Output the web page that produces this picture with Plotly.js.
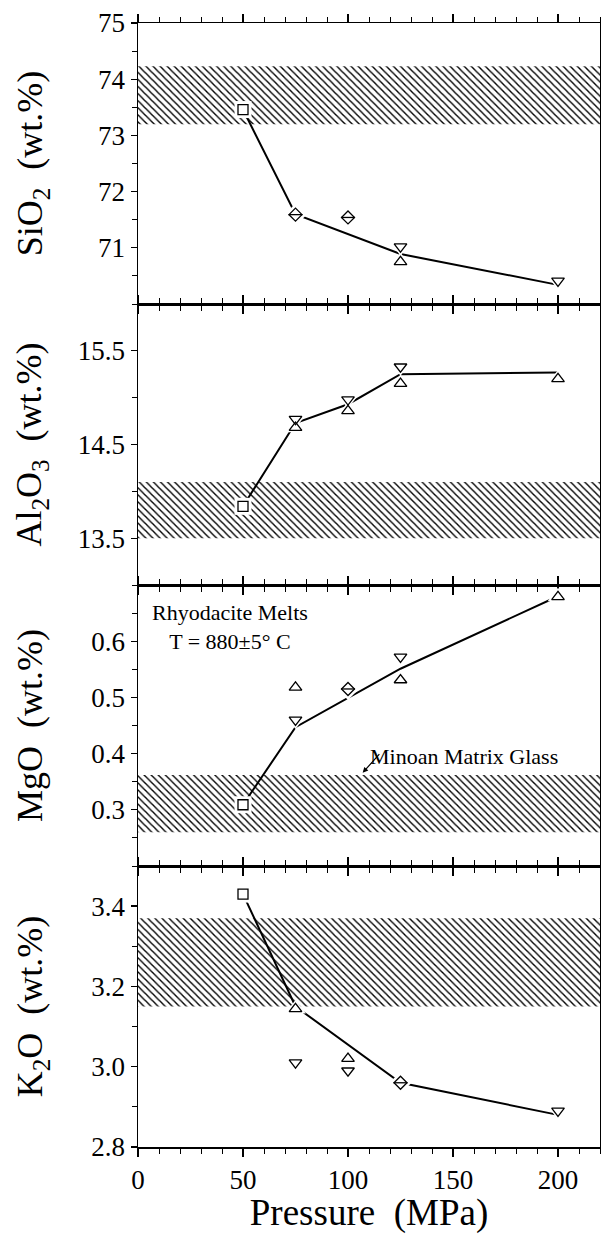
<!DOCTYPE html>
<html>
<head>
<meta charset="utf-8">
<script src="https://cdn.plot.ly/plotly-3.0.1.min.js"></script>
<style>
  html, body { margin: 0; padding: 0; background: #fff; }
  #chart { width: 601px; height: 1234px; }
</style>
</head>
<body>
<div id="chart"></div>
<script>
// ---------- data ----------
const pressureRange = [0, 220];
const pressureTicks = [0, 50, 100, 150, 200];

// SiO2
const sio2SquareP = [50];        const sio2Square = [73.46];
const sio2DiamondP = [75, 100];  const sio2Diamond = [71.59, 71.54];
const sio2DownP = [125, 200];    const sio2Down = [71.02, 70.41];
const sio2UpP = [125];           const sio2Up = [70.75];
const sio2LineP = [50, 75, 125, 200]; const sio2Line = [73.46, 71.6, 70.89, 70.34];
const sio2Band = [73.2, 74.23];
const sio2Ticks = [71, 72, 73, 74, 75];

// Al2O3
const al2o3SquareP = [50];             const al2o3Square = [13.84];
const al2o3DownP = [75, 100, 125];     const al2o3Down = [14.77, 14.98, 15.33];
const al2o3UpP = [75, 100, 125, 200];  const al2o3Up = [14.68, 14.86, 15.15, 15.20];
const al2o3LineP = [50, 75, 100, 125, 200]; const al2o3Line = [13.84, 14.73, 14.93, 15.25, 15.27];
const al2o3Band = [13.5, 14.1];
const al2o3Ticks = [13.5, 14.5, 15.5];

// MgO
const mgoSquareP = [50];           const mgoSquare = [0.309];
const mgoUpP = [75, 125, 200];     const mgoUp = [0.518, 0.531, 0.679];
const mgoDownP = [75, 125];        const mgoDown = [0.460, 0.572];
const mgoDiamondP = [100];         const mgoDiamond = [0.515];
const mgoLineP = [50, 75, 125, 200]; const mgoLine = [0.309, 0.447, 0.551, 0.68];
const mgoBand = [0.26, 0.362];
const mgoTicks = [0.3, 0.4, 0.5, 0.6];

// K2O
const k2oSquareP = [50];            const k2oSquare = [3.43];
const k2oUpP = [75, 100];           const k2oUp = [3.144, 3.02];
const k2oDownP = [75, 100, 200];    const k2oDown = [3.01, 2.99, 2.89];
const k2oDiamondP = [125];          const k2oDiamond = [2.96];
const k2oLineP = [50, 75, 125, 200]; const k2oLine = [3.43, 3.15, 2.96, 2.88];
const k2oBand = [3.15, 3.37];
const k2oTicks = [2.8, 3.0, 3.2, 3.4];

// annotation anchor points (data coordinates of the MgO panel)
const labelMelts = {p: 44, v: 0.625};
const labelGlassText = {p: 155, v: 0.394};
const labelGlassArrowTip = {p: 107, v: 0.366};

// ---------- styling ----------
const FONT = '"Liberation Serif", "Times New Roman", Times, serif';
const BLACK = '#000';
const MS = {square: 10, triangle: 11, diamond: 10};
const HALO = 7;

const traces = [];
function band(xa, ya, b) {
  traces.push({
    x: [pressureRange[0], pressureRange[1], pressureRange[1], pressureRange[0], pressureRange[0]],
    y: [b[0], b[0], b[1], b[1], b[0]],
    xaxis: xa, yaxis: ya, mode: 'lines', fill: 'toself',
    line: {width: 0, color: 'rgba(0,0,0,0)'},
    fillcolor: 'white',
    fillpattern: {shape: '\\', size: 5, solidity: 0.28, fgcolor: BLACK, bgcolor: 'white'},
    hoverinfo: 'skip', showlegend: false
  });
}
function line(xa, ya, xs, ys) {
  traces.push({x: xs, y: ys, xaxis: xa, yaxis: ya, mode: 'lines',
    line: {color: BLACK, width: 2}, showlegend: false, hoverinfo: 'skip'});
}
const groups = [];
function pts(xa, ya, xs, ys, sym, size) {
  groups.push({xa, ya, xs, ys, sym, size});
}
function flushPoints() {
  groups.forEach(g => {
    const base = g.sym.replace('-open', '');
    if (base === 'line-ew') return;
    traces.push({x: g.xs, y: g.ys, xaxis: g.xa, yaxis: g.ya, mode: 'markers',
      marker: {symbol: base, size: g.size + HALO, color: 'white', line: {width: 0}},
      showlegend: false, hoverinfo: 'skip'});
  });
  groups.forEach(g => {
    traces.push({x: g.xs, y: g.ys, xaxis: g.xa, yaxis: g.ya, mode: 'markers',
      marker: {symbol: g.sym, size: g.size, color: BLACK, line: {color: BLACK, width: 1.3}},
      showlegend: false});
  });
}

// panel 1: SiO2
band('x', 'y', sio2Band);
line('x', 'y', sio2LineP, sio2Line);
pts('x', 'y', sio2SquareP, sio2Square, 'square-open', MS.square);
pts('x', 'y', sio2DiamondP, sio2Diamond, 'diamond-open', MS.diamond);
pts('x', 'y', sio2DiamondP, sio2Diamond, 'line-ew', MS.diamond);
pts('x', 'y', sio2DownP, sio2Down, 'triangle-down-open', MS.triangle);
pts('x', 'y', sio2UpP, sio2Up, 'triangle-up-open', MS.triangle);

// panel 2: Al2O3
band('x2', 'y2', al2o3Band);
line('x2', 'y2', al2o3LineP, al2o3Line);
pts('x2', 'y2', al2o3SquareP, al2o3Square, 'square-open', MS.square);
pts('x2', 'y2', al2o3DownP, al2o3Down, 'triangle-down-open', MS.triangle);
pts('x2', 'y2', al2o3UpP, al2o3Up, 'triangle-up-open', MS.triangle);

// panel 3: MgO
band('x3', 'y3', mgoBand);
line('x3', 'y3', mgoLineP, mgoLine);
pts('x3', 'y3', mgoSquareP, mgoSquare, 'square-open', MS.square);
pts('x3', 'y3', mgoUpP, mgoUp, 'triangle-up-open', MS.triangle);
pts('x3', 'y3', mgoDownP, mgoDown, 'triangle-down-open', MS.triangle);
pts('x3', 'y3', mgoDiamondP, mgoDiamond, 'diamond-open', MS.diamond);
pts('x3', 'y3', mgoDiamondP, mgoDiamond, 'line-ew', MS.diamond);

// panel 4: K2O
band('x4', 'y4', k2oBand);
line('x4', 'y4', k2oLineP, k2oLine);
pts('x4', 'y4', k2oSquareP, k2oSquare, 'square-open', MS.square);
pts('x4', 'y4', k2oUpP, k2oUp, 'triangle-up-open', MS.triangle);
pts('x4', 'y4', k2oDownP, k2oDown, 'triangle-down-open', MS.triangle);
pts('x4', 'y4', k2oDiamondP, k2oDiamond, 'diamond-open', MS.diamond);
pts('x4', 'y4', k2oDiamondP, k2oDiamond, 'line-ew', MS.diamond);

flushPoints();

function xAxis(anchor, showLabels, title) {
  const a = {
    anchor: anchor, range: pressureRange, tickvals: pressureTicks,
    ticks: 'outside', ticklen: 8, tickwidth: 1.3, tickcolor: BLACK,
    minor: {dtick: 10, tick0: 0, ticks: 'outside', ticklen: 5, tickwidth: 1, tickcolor: BLACK},
    showline: true, linecolor: BLACK, linewidth: 1.5, mirror: 'ticks',
    showgrid: false, zeroline: false, showticklabels: showLabels,
    tickfont: {family: FONT, size: 27, color: BLACK}, fixedrange: true
  };
  if (anchor !== 'y4') a.matches = 'x4';
  if (title) a.title = {text: title, font: {family: FONT, size: 37, color: BLACK}, standoff: 12};
  return a;
}
function yAxis(anchor, domain, range, tickvals, minorDt, minor0, fmt, title, standoff) {
  return {
    anchor: anchor, domain: domain, range: range, tickvals: tickvals, tickformat: fmt,
    ticks: 'outside', ticklen: 6, tickwidth: 1.3, tickcolor: BLACK,
    minor: {dtick: minorDt, tick0: minor0, ticks: 'outside', ticklen: 5, tickwidth: 1, tickcolor: BLACK},
    showline: true, linecolor: BLACK, linewidth: 1.5, mirror: true,
    showgrid: false, zeroline: false,
    tickfont: {family: FONT, size: 27, color: BLACK},
    title: {text: title, font: {family: FONT, size: 36, color: BLACK}, standoff: standoff},
    fixedrange: true
  };
}

const layout = {
  width: 601, height: 1234,
  margin: {l: 138, r: 1, t: 23, b: 87, pad: 0},
  paper_bgcolor: 'white', plot_bgcolor: 'white',
  showlegend: false,
  font: {family: FONT, color: BLACK},
  xaxis: xAxis('y', false),
  xaxis2: xAxis('y2', false),
  xaxis3: xAxis('y3', false),
  xaxis4: xAxis('y4', true, 'Pressure&nbsp;&nbsp;(MPa)'),
  yaxis: yAxis('x', [0.75, 1], [70, 75], sio2Ticks, 0.5, 70, 'd', 'SiO<sub>2</sub>&nbsp;&nbsp;(wt.%)', 44),
  yaxis2: yAxis('x2', [0.5, 0.75], [13, 16], al2o3Ticks, 0.5, 13, '.1f', 'Al<sub>2</sub>O<sub>3</sub>&nbsp;&nbsp;(wt.%)', 25),
  yaxis3: yAxis('x3', [0.25, 0.5], [0.2, 0.7], mgoTicks, 0.05, 0.2, '.1f', 'MgO&nbsp;&nbsp;(wt.%)', 37),
  yaxis4: yAxis('x4', [0, 0.25], [2.8, 3.5], k2oTicks, 0.1, 2.8, '.1f', 'K<sub>2</sub>O&nbsp;&nbsp;(wt.%)', 37),
  annotations: [
    {xref: 'x3', yref: 'y3', x: labelMelts.p, y: labelMelts.v, text: 'Rhyodacite Melts<br>T = 880±5° C',
     showarrow: false, font: {family: FONT, size: 22, color: BLACK}, align: 'center'},
    {xref: 'x3', yref: 'y3', x: labelGlassText.p, y: labelGlassText.v, text: 'Minoan Matrix Glass',
     showarrow: false, font: {family: FONT, size: 22, color: BLACK}},
    {xref: 'x3', yref: 'y3', x: labelGlassArrowTip.p, y: labelGlassArrowTip.v, text: '',
     showarrow: true, arrowhead: 2, arrowsize: 0.9, arrowwidth: 1.2, arrowcolor: BLACK,
     axref: 'pixel', ayref: 'pixel', ax: 18, ay: -20}
  ]
};

Plotly.newPlot('chart', traces, layout, {displayModeBar: false, staticPlot: true});
</script>
</body>
</html>
